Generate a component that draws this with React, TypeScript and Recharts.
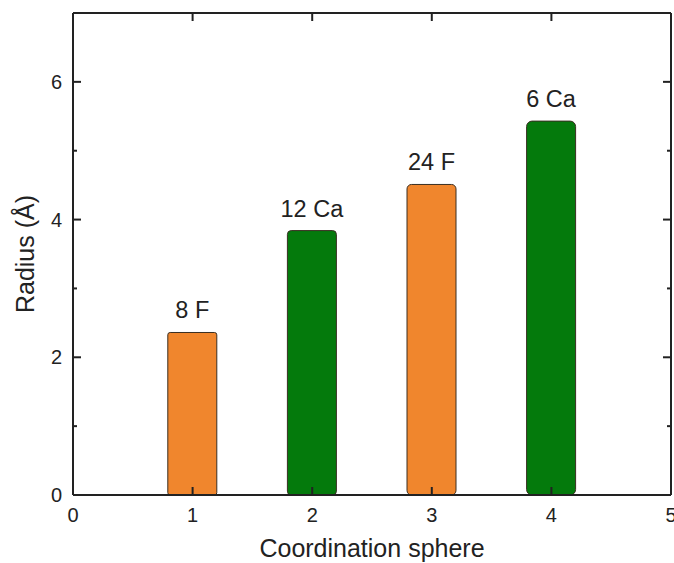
import React from 'react';
import { BarChart, Bar, XAxis, YAxis, Cell, LabelList } from 'recharts';

const spheres = [1, 2, 3, 4];
const radii = [2.36, 3.84, 4.51, 5.43];
const shellLabels = ['8 F', '12 Ca', '24 F', '6 Ca'];
const elements = ['F', 'Ca', 'F', 'Ca'];
const xTicks = [0, 1, 2, 3, 4, 5];
const yMajorTicks = [0, 2, 4, 6];
const yMinorTicks = [1, 3, 5];

const elementColors: Record<string, string> = { F: '#F0862D', Ca: '#047A0C' };

const data = spheres.map((s, i) => ({ sphere: s, radius: radii[i], label: shellLabels[i], el: elements[i] }));

const FONT = 'Liberation Sans, Arial, sans-serif';
const AXIS = '#222';
const W = 674;
const H = 563;
const lineStyle = { stroke: AXIS, strokeWidth: 2 };
const tickText = { fontSize: 20, fill: '#222', fontFamily: FONT };
const noText = { fontSize: 0, fill: 'none' };
const blank = () => '';

function BarsLayer() {
  return (
    <BarChart width={W} height={H} data={data} margin={{ top: 13, right: 3, left: 73, bottom: 68 }}>
      <XAxis xAxisId="bottom" dataKey="sphere" type="number" domain={[0, 5]} hide />
      <YAxis yAxisId="left" type="number" domain={[0, 7]} hide />
      <Bar xAxisId="bottom" yAxisId="left" dataKey="radius" barSize={49} stroke="#3a2e22" strokeWidth={1} isAnimationActive={false}>
        {data.map((d, i) => (
          <Cell key={i} fill={elementColors[d.el]} />
        ))}
        <LabelList dataKey="label" position="top" offset={14} fontSize={23.5} fill="#222" fontFamily={FONT} />
      </Bar>
    </BarChart>
  );
}

function AxesLayer() {
  return (
    <BarChart width={W} height={H} data={data} margin={{ top: 12, right: 2, left: 0, bottom: 0 }}>
      <XAxis
        xAxisId="bottom"
        dataKey="sphere"
        type="number"
        domain={[0, 5]}
        ticks={xTicks}
        interval={0}
        height={68}
        tickSize={-8}
        tickMargin={21}
        tickLine={lineStyle}
        axisLine={lineStyle}
        tick={tickText}
        label={{ value: 'Coordination sphere', position: 'insideBottom', offset: 6, fontSize: 25, fill: '#222', fontFamily: FONT }}
      />
      <XAxis
        xAxisId="top"
        dataKey="sphere"
        type="number"
        orientation="top"
        domain={[0, 5]}
        ticks={xTicks}
        interval={0}
        height={1}
        tickSize={-8}
        tickLine={lineStyle}
        axisLine={lineStyle}
        tick={noText}
        tickFormatter={blank}
      />
      <YAxis
        yAxisId="left"
        dataKey="radius"
        type="number"
        domain={[0, 7]}
        ticks={yMajorTicks}
        interval={0}
        width={73}
        tickSize={-8}
        tickMargin={19}
        tickLine={lineStyle}
        axisLine={lineStyle}
        tick={tickText}
        label={{ value: 'Radius (Å)', angle: -90, position: 'insideLeft', offset: 25, style: { textAnchor: 'middle' }, fontSize: 25, fill: '#222', fontFamily: FONT }}
      />
      <YAxis
        yAxisId="leftMinor"
        dataKey="radius"
        type="number"
        mirror
        domain={[0, 7]}
        ticks={yMinorTicks}
        interval={0}
        width={1}
        tickSize={4}
        tickLine={lineStyle}
        axisLine={false}
        tick={noText}
        tickFormatter={blank}
      />
      <YAxis
        yAxisId="right"
        dataKey="radius"
        type="number"
        orientation="right"
        domain={[0, 7]}
        ticks={yMajorTicks}
        interval={0}
        width={1}
        tickSize={-8}
        tickLine={lineStyle}
        axisLine={lineStyle}
        tick={noText}
        tickFormatter={blank}
      />
      <YAxis
        yAxisId="rightMinor"
        dataKey="radius"
        type="number"
        orientation="right"
        mirror
        domain={[0, 7]}
        ticks={yMinorTicks}
        interval={0}
        width={1}
        tickSize={4}
        tickLine={lineStyle}
        axisLine={false}
        tick={noText}
        tickFormatter={blank}
      />
    </BarChart>
  );
}

export default function App() {
  return (
    <div style={{ position: 'absolute', left: 0, top: 0, width: W, height: H, background: '#fff' }}>
      <div style={{ position: 'absolute', left: 0, top: 0 }}>
        <BarsLayer />
      </div>
      <div style={{ position: 'absolute', left: 0, top: 0, pointerEvents: 'none' }}>
        <AxesLayer />
      </div>
    </div>
  );
}
